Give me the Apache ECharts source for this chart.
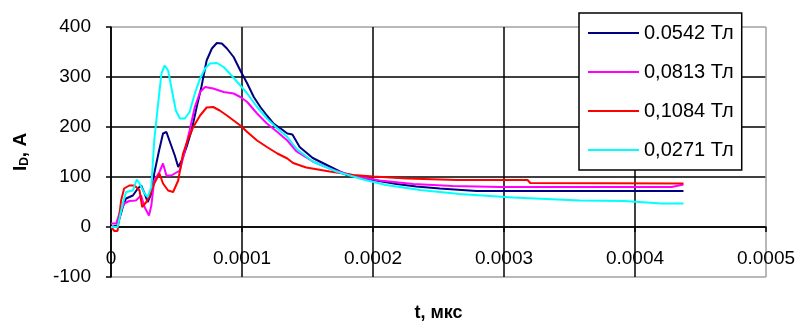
<!DOCTYPE html>
<html>
<head>
<meta charset="utf-8">
<script src="https://cdn.jsdelivr.net/npm/echarts@6/dist/echarts.min.js"></script>
<style>
html,body{margin:0;padding:0;background:#fff;}
#chart{width:798px;height:327px;}
</style>
</head>
<body>
<div id="chart"></div>
<script>
// Series names (legend)
const seriesNames = ['0.0542 Тл', '0,0813 Тл', '0,1084 Тл', '0,0271 Тл'];
const seriesColors = ['#000080', '#FF00FF', '#FF0000', '#00FFFF'];

// Time in microseconds (converted to seconds below), values in A
const tNavy = [0,5,9,11.5,16.7,20.5,23,25.6,28,30.8,33,36.7,39.7,42.3,45,48.7,51.3,54,57.7,61.5,65.4,69,73,77,80.8,84.6,88.5,93.6,98.7,104,109,114,119,124,129.5,134.6,138.5,144,154,167,180,200,218,233,251,279,307,358,437];
const vNavy = [0,3,40,57,63,77,83,67,50,67,107,153,187,190,170,143,120,133,160,193,240,280,333,357,368,367,357,340,313,287,260,240,223,207,197,187,185,160,138,121,104,94,86,81,77,72,72,72,72];

const tMagenta = [0,4,6.4,10,14,19,23,25.6,29,30.8,33,37,39.7,42.3,46,52.6,56.4,60,64,68,71.8,78,86,93.6,98.7,104,111.5,119,127,134.6,141.7,154,169.7,187.6,205,230.8,261,297,350,428,437];
const vMagenta = [7,7,27,47,52,53,63,40,23,43,93,110,127,103,103,113,153,193,240,270,280,277,270,267,260,250,227,207,190,173,151,131,114,101,93,86,82,80,80,80,85];

const tRed = [0,2.6,5,7.7,10,14,18,21.8,23.8,27,29.5,33,37,39.7,43.6,47.4,51.3,55,59,62.8,68,73,78,83,88.5,93.6,98.7,104,111.5,119,127,134.6,139,149,167,185,200,226,264,318,320,437];
const vRed = [0,-8,-8,53,77,83,83,73,40,50,63,87,107,87,73,70,93,147,177,200,223,239,240,233,223,213,203,190,173,160,147,137,128,119,111,104,101,97,94,94,88,87];

const tCyan = [0,5,9,11.5,16.7,19.7,21.8,25.6,28,30.8,33,36,38.5,41,43.6,46,49.5,52.6,56.4,60,64,68,71.8,75.6,80.8,86,92,98.7,104,111.5,119,127,134.6,141.7,154,172,192.6,210,236,266,307,358,392,420,437];
const vCyan = [0,0,47,70,73,95,87,67,60,80,173,247,307,323,313,280,233,217,217,230,267,297,317,327,328,320,303,283,267,240,217,197,180,156,131,111,95,84,74,66,59,53,52,47,47];

// Axis ticks
const xTickLabels = ['0', '0.0001', '0.0002', '0.0003', '0.0004', '0.0005'];
const yTickLabels = ['-100', '0', '100', '200', '300', '400'];

const tArrays = [tNavy, tMagenta, tRed, tCyan];
const vArrays = [vNavy, vMagenta, vRed, vCyan];

const FONT = 'Liberation Sans, Arial, sans-serif';
const chart = echarts.init(document.getElementById('chart'), null, {renderer: 'canvas'});

const series = seriesNames.map((name, i) => ({
  name: name,
  type: 'line',
  symbol: 'none',
  showSymbol: false,
  data: tArrays[i].map((t, k) => [t * 1e-6, vArrays[i][k]]),
  lineStyle: {color: seriesColors[i], width: 2},
  itemStyle: {color: seriesColors[i]},
  emphasis: {disabled: true},
  animation: false
}));

chart.setOption({
  animation: false,
  backgroundColor: '#ffffff',
  grid: {left: 111, right: 32, top: 27, bottom: 50, containLabel: false, outerBoundsMode: 'none'},
  legend: {
    orient: 'vertical',
    left: 579,
    top: 13,
    data: seriesNames,
    backgroundColor: '#ffffff',
    borderColor: '#000000',
    borderWidth: 1.5,
    padding: [10, 8, 10, 8],
    itemGap: 19,
    itemWidth: 51,
    itemHeight: 20,
    itemStyle: {opacity: 0},
    lineStyle: {width: 2},
    textStyle: {fontFamily: FONT, fontSize: 20, color: '#000'},
    z: 10
  },
  xAxis: {
    type: 'value',
    min: 0,
    max: 0.0005,
    interval: 0.0001,
    name: 't, мкс',
    nameLocation: 'middle',
    nameGap: 27,
    nameTextStyle: {fontFamily: FONT, fontSize: 18, fontWeight: 'bold', color: '#000'},
    axisLine: {onZero: true, lineStyle: {color: '#000', width: 1.5}},
    axisTick: {show: true, length: 5, lineStyle: {color: '#000', width: 1.5}},
    axisLabel: {
      fontFamily: FONT, fontSize: 19, color: '#000', margin: -28,
      formatter: v => xTickLabels[Math.round(v / 0.0001)]
    },
    splitLine: {show: true, lineStyle: {color: ['#000', '#000', '#000', '#000', '#000', '#a0a0a0'], width: 1.5}}
  },
  yAxis: {
    type: 'value',
    min: -100,
    max: 400,
    interval: 100,
    name: '{b|I}{s|D}{b|, A}',
    nameLocation: 'middle',
    nameGap: 80,
    nameRotate: 90,
    nameTextStyle: {
      fontFamily: FONT, color: '#000',
      rich: {
        b: {fontFamily: FONT, fontSize: 19, fontWeight: 'bold', color: '#000'},
        s: {fontFamily: FONT, fontSize: 12, fontWeight: 'bold', color: '#000', verticalAlign: 'bottom', padding: [8, 0, 0, 0]}
      }
    },
    axisLine: {show: true, onZero: false, lineStyle: {color: '#000', width: 1.5}},
    axisTick: {show: true, length: 5, lineStyle: {color: '#000', width: 1.5}},
    axisLabel: {
      fontFamily: FONT, fontSize: 19, color: '#000', margin: 20,
      formatter: v => yTickLabels[Math.round((v + 100) / 100)]
    },
    splitLine: {show: true, lineStyle: {color: ['#a0a0a0', '#000', '#000', '#000', '#000', '#a0a0a0'], width: 1.5}}
  },
  series: series
});
</script>
</body>
</html>
